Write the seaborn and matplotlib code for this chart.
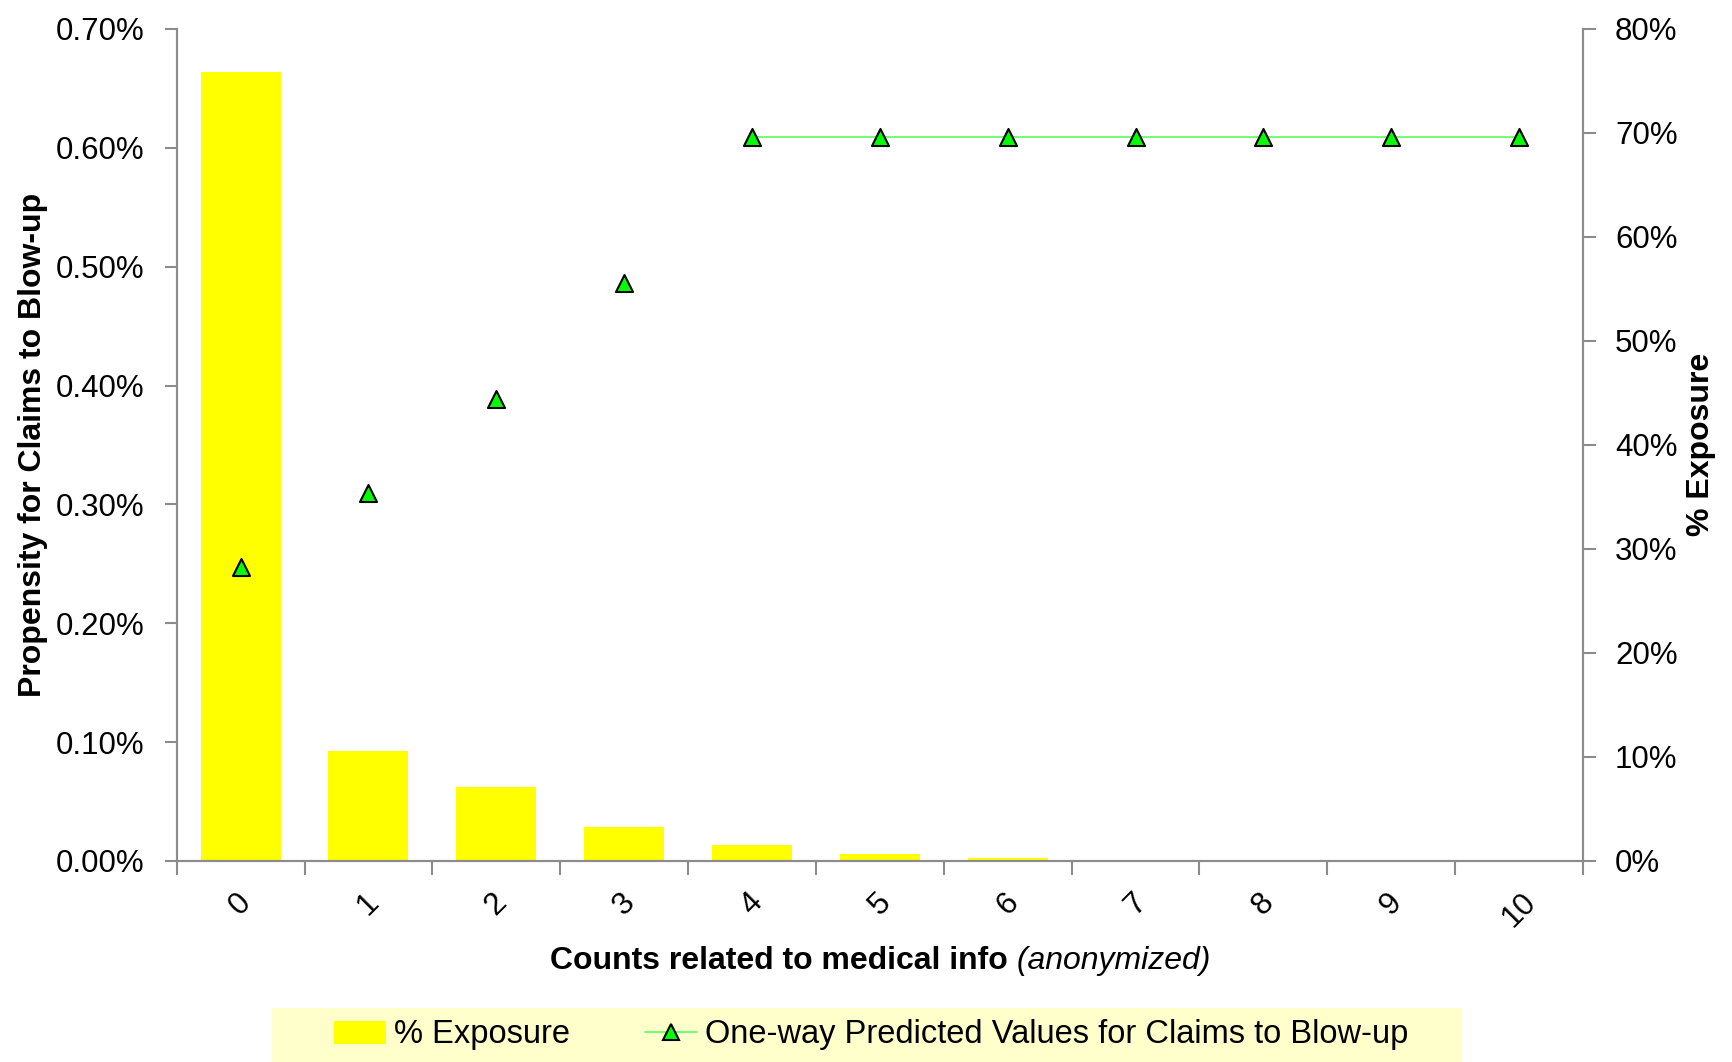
import matplotlib
matplotlib.use("Agg")
import matplotlib.pyplot as plt
from matplotlib.patches import Patch, Rectangle
from matplotlib.lines import Line2D
from matplotlib.ticker import FuncFormatter, FixedLocator
import seaborn as sns
import pandas as pd

# Data
counts = [0, 1, 2, 3, 4, 5, 6, 7, 8, 9, 10]
exposure = [0.759, 0.106, 0.071, 0.033, 0.0155, 0.0067, 0.003, 0.0012, 0.0005, 0.0002, 0.0001]
propensity = [0.00247, 0.00310, 0.00389, 0.00486, 0.00609, 0.00609, 0.00609,
              0.00609, 0.00609, 0.00609, 0.00609]
tick_labels = [str(c) for c in counts]

df = pd.DataFrame({"count": counts, "exposure": exposure, "propensity": propensity})
flat = df[df["count"] >= 4]

sns.set_theme(style="white")
plt.rcParams["font.family"] = ["Liberation Sans", "DejaVu Sans"]
plt.rcParams["text.color"] = "black"
plt.rcParams["xtick.labelcolor"] = "black"
plt.rcParams["ytick.labelcolor"] = "black"

GRAY = "#8c8c8c"
fig = plt.figure(figsize=(17.32, 10.62), dpi=100)
ax = fig.add_axes([0.102, 0.1893, 0.812, 0.7834])

# Exposure bars (right-hand scale)
sns.barplot(data=df, x="count", y="exposure", native_scale=True, color="#FFFF00",
            saturation=1, width=0.625, ax=ax, linewidth=0, errorbar=None)
ax.set_ylim(0, 0.8)
ax.set_xlim(-0.5, 10.5)
ax.set_xlabel("")
ax.set_ylabel("")

# Propensity markers (left-hand scale)
ax2 = ax.twinx()
sns.lineplot(data=flat, x="count", y="propensity", color="#66FF66", linewidth=1.3, ax=ax2)
sns.scatterplot(data=df, x="count", y="propensity", marker="^", s=150, color="#00FF00",
                edgecolor="black", linewidth=1.5, ax=ax2, zorder=3)
ax2.set_ylim(0, 0.007)
ax2.set_xlabel("")
ax2.set_ylabel("")
ax2.set_xlim(-0.5, 10.5)

# Swap sides: exposure scale on the right, propensity on the left
ax.yaxis.tick_right()
ax2.yaxis.tick_left()
ax.yaxis.set_major_locator(FixedLocator([i / 10 for i in range(9)]))
ax.yaxis.set_major_formatter(FuncFormatter(lambda v, p: f"{v * 100:.0f}%"))
ax2.yaxis.set_major_locator(FixedLocator([i / 1000 for i in range(8)]))
ax2.yaxis.set_major_formatter(FuncFormatter(lambda v, p: f"{v * 100:.2f}%"))

# x ticks: labels at category centres, tick marks at boundaries
ax.set_xticks(counts)
ax.set_xticklabels(tick_labels, rotation=45, fontsize=22.5)
ax.set_xticks([c - 0.5 for c in counts] + [10.5], minor=True)
ax.tick_params(axis="x", which="major", length=0, pad=19)
ax.tick_params(axis="x", which="minor", length=10, width=1.5, color=GRAY, direction="out", bottom=True)
ax.tick_params(axis="y", length=9, width=1.5, color=GRAY, direction="out", labelsize=22.5, pad=14)
ax2.tick_params(axis="y", length=9, width=1.5, color=GRAY, direction="out", labelsize=22.5, pad=14)

for a in (ax, ax2):
    a.spines["top"].set_visible(False)
    for s in ("left", "right", "bottom"):
        a.spines[s].set_color(GRAY)
        a.spines[s].set_linewidth(1.5)
    a.grid(False)

# Axis titles
fig.text(33 / 1732, 1 - 445 / 1062, "Propensity for Claims to Blow-up", rotation=90,
         ha="center", va="center", fontsize=23, fontweight="bold")
fig.text(1701 / 1732, 1 - 444 / 1062, "% Exposure", rotation=90,
         ha="center", va="center", fontsize=23, fontweight="bold")

renderer = fig.canvas.get_renderer()
y_xl = 1 - 961 / 1062
t1 = fig.text(0, y_xl, "Counts related to medical info", ha="left", va="center",
              fontsize=23, fontweight="bold")
t2 = fig.text(0, y_xl, " (anonymized)", ha="left", va="center", fontsize=23, fontstyle="italic")
w1 = t1.get_window_extent(renderer).width
w2 = t2.get_window_extent(renderer).width
x0 = (880 - (w1 + w2) / 2) / 1732
t1.set_x(x0)
t2.set_x(x0 + w1 / 1732)

# Legend band
fig.patches.append(Rectangle((272 / 1732, 0), (1462 - 272) / 1732, 54 / 1062,
                             transform=fig.transFigure, facecolor="#FFFFCC",
                             edgecolor="none", zorder=0))
handles = [
    Patch(facecolor="#FFFF00", edgecolor="none"),
    Line2D([], [], color="#66FF66", linewidth=1.3, marker="^", markersize=12,
           markerfacecolor="#00FF00", markeredgecolor="black", markeredgewidth=1.5),
]
fig.legend(handles, ["% Exposure", "One-way Predicted Values for Claims to Blow-up"],
           loc="center", bbox_to_anchor=(0.503, 1 - 1035 / 1062), ncol=2, frameon=False,
           fontsize=23.5, handlelength=1.6, handletextpad=0.25, columnspacing=2.3)

fig.savefig("out.png", dpi=100)
